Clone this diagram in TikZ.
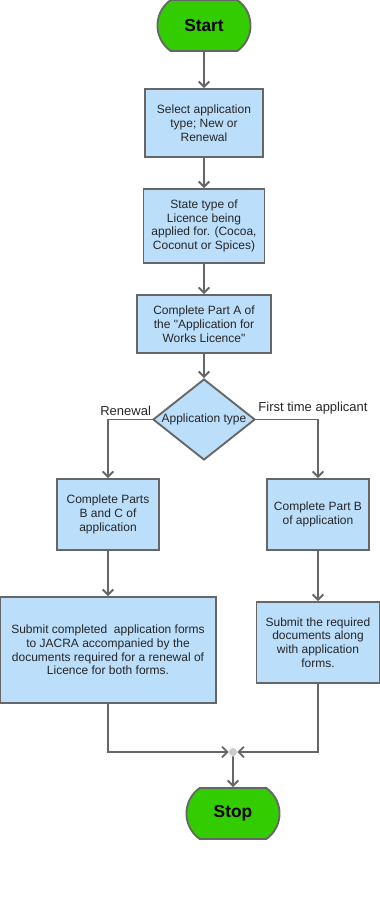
\documentclass[tikz,border=0pt]{standalone}
\usepackage{fontspec}
\setmainfont{Liberation Sans}
\usetikzlibrary{arrows.meta,positioning,shapes.geometric,shapes.misc}
\definecolor{termgreen}{HTML}{33CC00}
\definecolor{procblue}{HTML}{BBDEFB}
\definecolor{edgegray}{HTML}{666666}

\begin{document}
\begin{tikzpicture}[
    x=0.75pt, y=-0.75pt,
    every node/.style={font=\fontsize{9}{10.3}\selectfont, text=black!85},
    terminal/.style={draw=edgegray, line width=1.4pt, fill=termgreen, rounded rectangle, rounded rectangle arc length=110, minimum width=76.5pt, minimum height=38.25pt, font=\fontsize{13}{15}\selectfont\bfseries, text=black},
    proc/.style={draw=edgegray, line width=1.4pt, fill=procblue, align=center, inner sep=1pt},
    decision/.style={draw=edgegray, line width=1.4pt, fill=procblue, diamond, minimum width=76.5pt, minimum height=60.75pt, inner sep=0pt},
    junction/.style={circle, fill=black!20, inner sep=0pt, minimum size=6pt},
    flow/.style={-{Straight Barb[length=4pt,width=8pt]}, draw=edgegray, line width=1.4pt},
    branch/.style={font=\fontsize{9.75}{11}\selectfont, text=black!85}
]
\useasboundingbox (0,0) rectangle (379,915);
\node[terminal] (start) at (204,25.5) {Start};
\node[proc, minimum width=88.5pt, minimum height=51pt, below=27.1pt of start] (select) {Select application\\type; New or\\Renewal};
\node[proc, minimum width=90.75pt, minimum height=55.5pt, below=22.6pt of select] (licence) {State type of\\Licence being\\applied for. (Cocoa,\\Coconut or Spices)};
\node[proc, minimum width=100.5pt, minimum height=43.5pt, below=22.6pt of licence] (partA) {Complete Part A of\\the \textquotedbl Application for\\Works Licence\textquotedbl};
\node[decision, below=18.1pt of partA, label={center:Application type}] (apptype) {};
\node[proc, minimum width=76.5pt, minimum height=53.25pt] (partBC) at (108,514.5) {Complete Parts\\B and C of\\application};
\node[proc, minimum width=76.5pt, minimum height=53.25pt] (partB) at (318,514.5) {Complete Part B\\of application};
\node[proc, minimum width=162pt, minimum height=79.5pt, below=33.8pt of partBC] (renewal) {Submit completed\ \ application forms\\to JACRA accompanied by the\\documents required for a renewal of\\Licence for both forms.};
\node[proc, minimum width=92.25pt, minimum height=60.75pt, below=37.6pt of partB] (firstdocs) {Submit the required\\documents along\\with application\\forms.};
\node[junction] (merge) at (233,752) {};
\node[terminal] (stop) at (233,813.5) {Stop};
\draw[flow] (start) -- (select);
\draw[flow] (select) -- (licence);
\draw[flow] (licence) -- (partA);
\draw[flow] (partA) -- (apptype);
\draw[flow] (apptype.west) -| node[branch, pos=0.3, above, inner sep=2pt] {Renewal} (partBC);
\draw[flow] (apptype.east) -| node[branch, pos=0.46, above, inner sep=3pt] {First time applicant} (partB);
\draw[flow] (partBC) -- (renewal);
\draw[flow] (partB) -- (firstdocs);
\draw[flow] (renewal.south) |- (merge);
\draw[flow] (firstdocs.south) |- (merge);
\draw[flow] (merge) -- (stop);
\end{tikzpicture}
\end{document}
